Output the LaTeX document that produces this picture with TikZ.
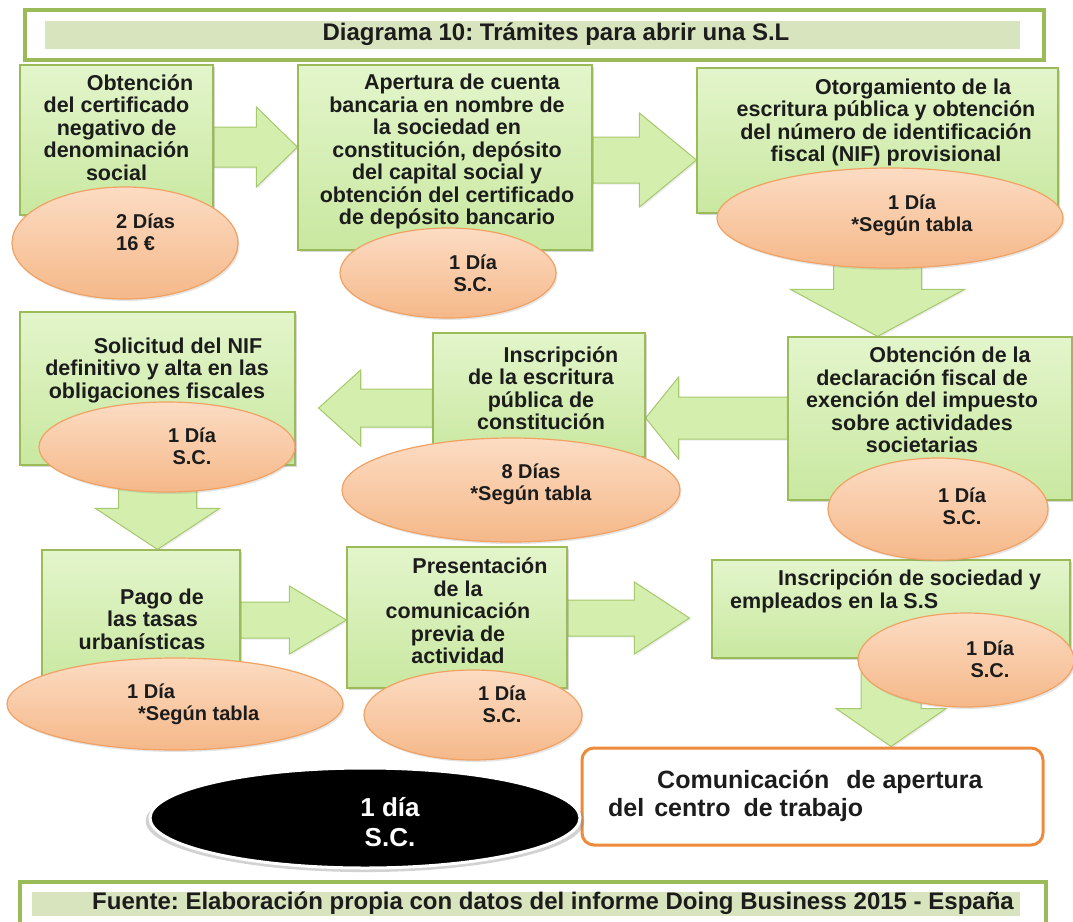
\documentclass[tikz,border=0pt]{standalone}
\usepackage{fontspec}
\setmainfont{Liberation Sans}
\usetikzlibrary{calc,shapes.geometric,shadows}
\frenchspacing

\definecolor{boxline}{HTML}{9BBB59}
\definecolor{boxtop}{HTML}{E3F5CB}
\definecolor{boxbot}{HTML}{C9E8A0}
\definecolor{arrowfill}{HTML}{D3EEAD}
\definecolor{arrowline}{HTML}{A6C96E}
\definecolor{elltop}{HTML}{FCDCC3}
\definecolor{ellbot}{HTML}{F5B889}
\definecolor{ellline}{HTML}{F0A264}
\definecolor{bandfill}{HTML}{D7E4BD}
\definecolor{orangeline}{HTML}{EE8A3C}
\definecolor{inkdark}{HTML}{1C1C1C}

\pgfdeclarelayer{paper}
\pgfdeclarelayer{arrows}
\pgfsetlayers{paper,arrows,main}

% horizontal block arrow: from, to, shaft half-width, head half-width, head length
\newcommand\blockh[5]{%
  \path[blockarrow] let \p1=(#1), \p2=(#2), \n1={sign(\x2-\x1)} in
    ({\x1},{\y1+#3pt}) -- ({\x2-\n1*#5pt},{\y1+#3pt}) -- ({\x2-\n1*#5pt},{\y1+#4pt})
    -- ({\x2},{\y1}) -- ({\x2-\n1*#5pt},{\y1-#4pt}) -- ({\x2-\n1*#5pt},{\y1-#3pt})
    -- ({\x1},{\y1-#3pt}) -- cycle;}
% downward block arrow: from, to, shaft half-width, head half-width, head length
\newcommand\blockv[5]{%
  \path[blockarrow] let \p1=(#1), \p2=(#2) in
    ({\x1+#3pt},{\y1}) -- ({\x1+#3pt},{\y2+#5pt}) -- ({\x1+#4pt},{\y2+#5pt}) -- ({\x1},{\y2})
    -- ({\x1-#4pt},{\y2+#5pt}) -- ({\x1-#3pt},{\y2+#5pt}) -- ({\x1-#3pt},{\y1}) -- cycle;}

\begin{document}
\begin{tikzpicture}[x=1pt, y=-1pt,
  procbox/.style={draw=boxline, line width=1.2pt, top color=boxtop, bottom color=boxbot,
    inner sep=0pt, drop shadow={shadow xshift=2pt, shadow yshift=-2pt, opacity=0.3}},
  blockarrow/.style={draw=arrowline, line width=1pt, fill=arrowfill, line join=miter,
    drop shadow={shadow xshift=1.5pt, shadow yshift=-1.5pt, opacity=0.15}},
  timeell/.style={ellipse, draw=ellline, line width=1.2pt, top color=elltop, bottom color=ellbot,
    inner sep=0pt, drop shadow={shadow xshift=1.5pt, shadow yshift=-2pt, opacity=0.2}},
  steptext/.style={font=\bfseries\fontsize{21.5}{22.5}\selectfont, align=center, text=inkdark, inner sep=0pt},
  timetext/.style={font=\bfseries\fontsize{20}{22}\selectfont, align=center, text=inkdark, inner sep=0pt},
  bandtext/.style={font=\bfseries\fontsize{24}{26}\selectfont, text=inkdark, inner sep=0pt},
  frame/.style={draw=boxline, line width=4pt, inner sep=0pt},
  band/.style={fill=bandfill, inner sep=0pt}]
\useasboundingbox (0,0) rectangle (1073,921);
\begin{pgfonlayer}{paper}
  \fill[white] (0,0) rectangle (1073,921);
\end{pgfonlayer}

% ---- heading ----
\node[frame, minimum width=1019pt, minimum height=50pt] (headframe) at (534.5,35) {};
\node[band, minimum width=975pt, minimum height=28pt] (headband) at (532.5,35) {};
\node[bandtext] (headtext) at (556,34) {Diagrama 10: Trámites para abrir una S.L};

% ---- step boxes ----
\node[procbox, minimum width=193pt, minimum height=150pt] (b1) at (116.5,140) {};
\node[procbox, minimum width=294pt, minimum height=185pt] (b2) at (445,157.5) {};
\node[procbox, minimum width=361pt, minimum height=145pt] (b3) at (877.5,140.5) {};
\node[procbox, minimum width=284pt, minimum height=163pt] (b4) at (930,418.5) {};
\node[procbox, minimum width=212pt, minimum height=124pt] (b5) at (539,395) {};
\node[procbox, minimum width=275pt, minimum height=153pt] (b6) at (157.5,388.5) {};
\node[procbox, minimum width=198pt, minimum height=136pt] (b7) at (141,618) {};
\node[procbox, minimum width=220pt, minimum height=141pt] (b8) at (457,617.5) {};
\node[procbox, minimum width=358pt, minimum height=98pt] (b9) at (891,609) {};
\node[draw=orangeline, line width=3pt, fill=white, rounded corners=12pt, inner sep=0pt,
  minimum width=461pt, minimum height=97pt] (b10) at (812.5,796.5) {};

% ---- block arrows between the steps (behind the boxes) ----
\begin{pgfonlayer}{arrows}
\blockh{b1.east |- 0,147}{b2.west |- 0,147}{20}{40}{41}
\blockh{b2.east |- 0,160}{b3.west |- 0,160}{23}{47}{57}
\blockv{b3.south}{b3.south |- b4.north}{44}{87}{47}
\blockh{b4.west |- 0,418}{b5.east |- 0,418}{21}{41}{33}
\blockh{b5.west |- 0,408}{$(b6.east |- 0,408)+(23,0)$}{19}{38}{42}
\blockv{b6.south}{b6.south |- b7.north}{39}{62}{41}
\blockh{b7.east |- 0,620}{b8.west |- 0,620}{18}{34}{57}
\blockh{b8.east |- 0,618}{$(b9.west |- 0,618)+(-22,0)$}{18}{36}{55}
\blockv{b9.south}{b9.south |- b10.north}{30}{55}{38}
\end{pgfonlayer}

% ---- step texts ----
\node[steptext] (t1) at (116.5,127.5) {\hspace*{47pt}Obtención\\del certificado\\negativo de\\denominación\\social};
\node[steptext] (t2) at (447,151.5) {\hspace*{30pt}Apertura de cuenta\\bancaria en nombre de\\la sociedad en\\constitución, depósito\\del capital social y\\obtención del certificado\\de depósito bancario};
\node[steptext] (t3) at (886,122.5) {\hspace*{54pt}Otorgamiento de la\\escritura pública y obtención\\del número de identificación\\fiscal (NIF) provisional};
\node[steptext] (t4) at (922,400) {\hspace*{56pt}Obtención de la\\declaración fiscal de\\exención del impuesto\\sobre actividades\\societarias};
\node[steptext] (t5) at (541,388) {\hspace*{40pt}Inscripción\\de la escritura\\pública de\\constitución};
\node[steptext] (t6) at (157,370) {\hspace*{42pt}Solicitud del NIF\\definitivo y alta en las\\obligaciones fiscales};
\node[steptext] (t7) at (142,619) {\hspace*{40pt}Pago de\\\hspace*{21pt}las tasas\\urbanísticas};
\node[steptext] (t8) at (458,611) {\hspace*{44pt}Presentación\\de la\\comunicación\\previa de\\actividad};
\node[steptext, align=left, anchor=west] (t9) at (730,591.5) {\hspace*{48pt}Inscripción de sociedad y\\empleados en la S.S};
\node[font=\bfseries\fontsize{25}{28}\selectfont, align=left, anchor=west, text=inkdark, inner sep=0pt] (t10)
  at (608,796) {\hspace*{49pt}Comunicación\hspace{10pt} de apertura\\del\hspace{3pt} centro\hspace{6pt} de trabajo};

% ---- time / cost ellipses ----
\node[timeell, minimum width=226pt, minimum height=112pt] (e1) at (125,243) {};
\node[timeell, minimum width=216pt, minimum height=90pt] (e2) at (448,273) {};
\node[timeell, minimum width=346pt, minimum height=100pt] (e3) at (890,218) {};
\node[timeell, minimum width=220pt, minimum height=102pt] (e4) at (938,509) {};
\node[timeell, minimum width=338pt, minimum height=104pt] (e5) at (511,490) {};
\node[timeell, minimum width=256pt, minimum height=90pt] (e6) at (167,447) {};
\node[timeell, minimum width=336pt, minimum height=92pt] (e7) at (175,704) {};
\node[timeell, minimum width=218pt, minimum height=90pt] (e8) at (473,715) {};
\node[timeell, minimum width=216pt, minimum height=94pt] (e9) at (966,660) {};

\node[timetext, align=left, anchor=west] (d1) at (116,232) {2 Días\\16 €};
\node[timetext] (d2) at (473,273) {1 Día\\S.C.};
\node[timetext] (d3) at (912,215) {1 Día\\*Según tabla};
\node[timetext] (d4) at (962,506) {1 Día\\S.C.};
\node[timetext] (d5) at (531,484) {8 Días\\*Según tabla};
\node[timetext] (d6) at (192,446) {1 Día\\S.C.};
\node[timetext, align=left, anchor=west] (d7) at (127,704) {1 Día\\\hspace*{11pt}*Según tabla};
\node[timetext] (d8) at (502,704) {1 Día\\S.C.};
\node[timetext] (d9) at (990,659) {1 Día\\S.C.};

% ---- total ----
\node[ellipse, fill=black, draw=white, line width=3pt, inner sep=0pt,
  minimum width=430pt, minimum height=100pt,
  drop shadow={shadow xshift=0pt, shadow yshift=-3pt, opacity=0.35, shadow scale=1.02}] (total) at (365,818) {};
\node[font=\bfseries\fontsize{26}{30}\selectfont, align=center, text=white, inner sep=0pt] (totaltext)
  at (390,822) {1 día\\S.C.};

% ---- source line ----
\node[frame, minimum width=1026pt, minimum height=53pt] (footframe) at (533,908.5) {};
\node[band, minimum width=988pt, minimum height=24pt] (footband) at (526,903.5) {};
\node[bandtext] (foottext) at (553,903.5)
  {Fuente: Elaboración propia con datos del informe Doing Business 2015 - España};
\end{tikzpicture}
\end{document}
